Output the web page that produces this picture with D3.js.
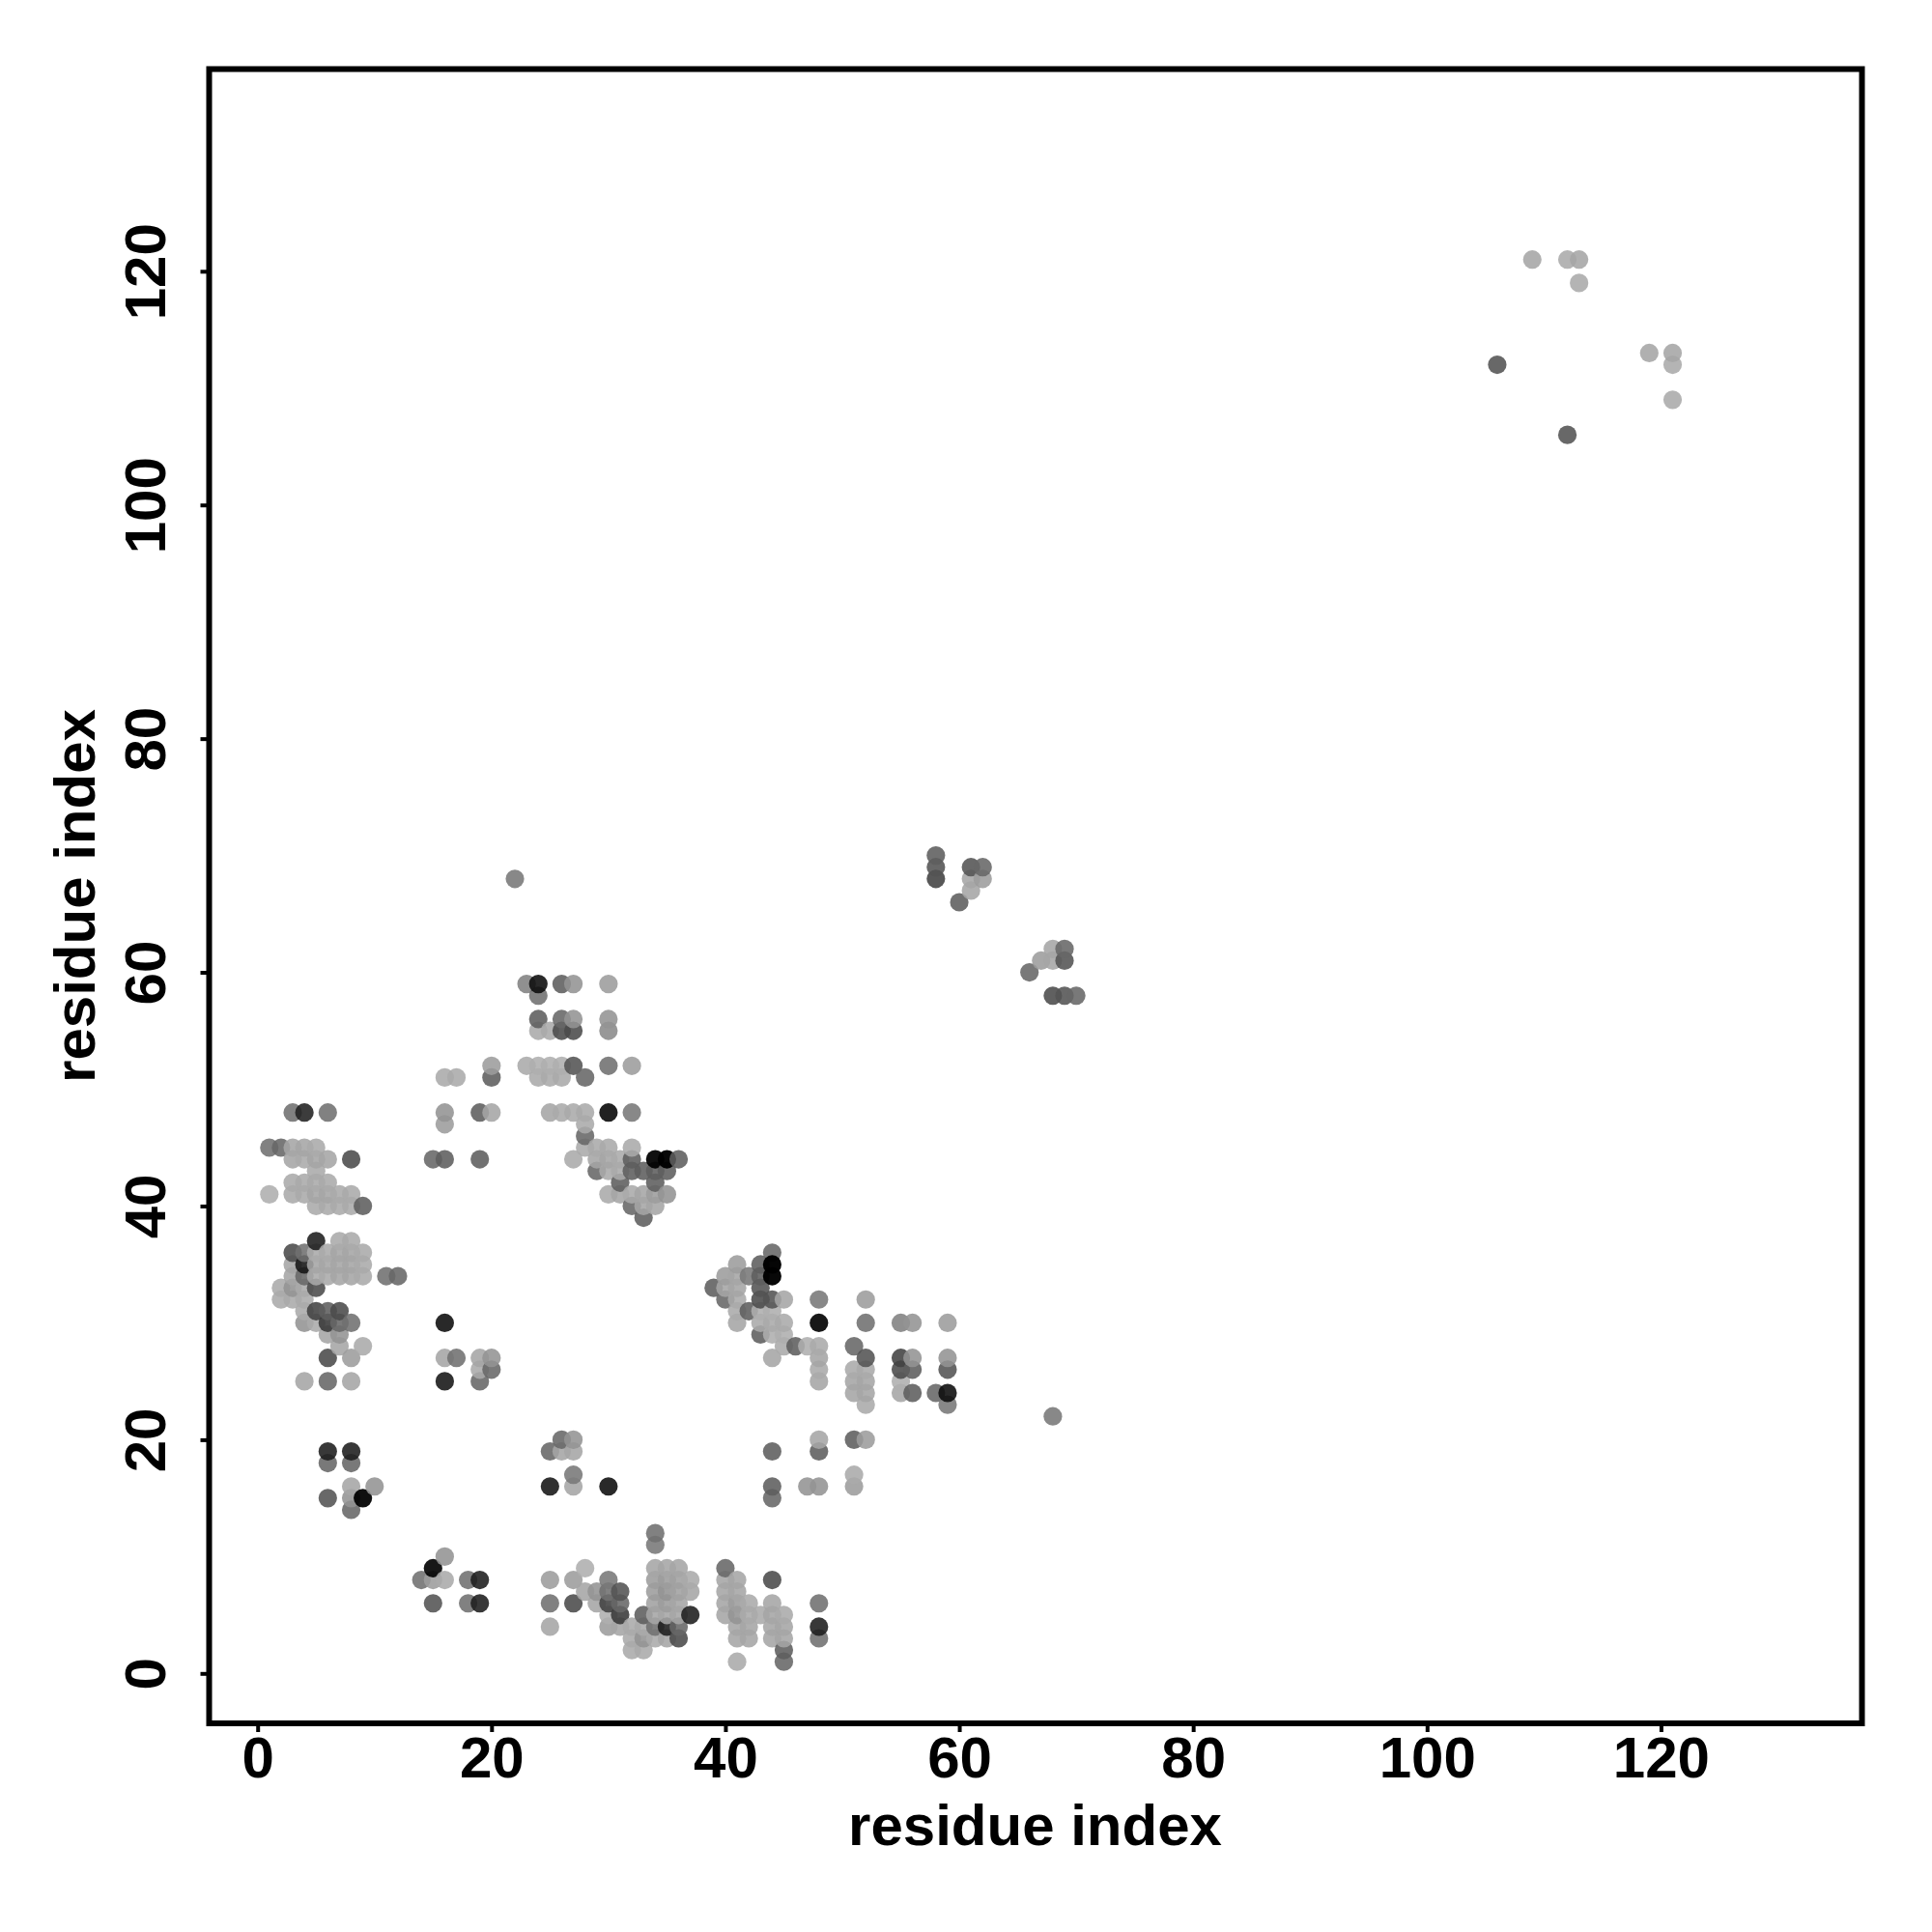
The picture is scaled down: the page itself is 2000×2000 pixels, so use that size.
<!DOCTYPE html>
<html><head><meta charset="utf-8">
<script src="https://cdnjs.cloudflare.com/ajax/libs/d3/7.8.5/d3.min.js"></script>
<style>html,body{margin:0;padding:0;background:#fff}svg{display:block}
text{font-family:"Liberation Sans",Arial,sans-serif;font-weight:700;fill:#000}</style>
</head><body><svg id="c" width="2000" height="2000"></svg>
<script>
// Each line: one row of the contact map (residueY, list of residueX, list of shade)
const rowY = [121,119,113,112,109,106,70,69,68,67,66,62,61,60,59,58,56,55,52,51,48,47,46,45,44,43,42,41,40,39,37,36,35,34,33,32,31,30,29,28,27,26,25,24,23,22,20,19,18,17,16,15,14,12,11,10,9,8,7,6,5,4,3,2,1];
const rowX = [
[109,112,113],[113],[119,121],[106,121],[121],[112],
[58],[58,61,62],[22,58,61,62],[61],[60],
[68,69],[67,68,69],[66],
[23,24,26,27,30],[24,68,69,70],[24,26,27,30],[24,25,26,27,30],
[20,23,24,25,26,27,30,32],[16,17,20,24,25,26,28],
[3,4,6,16,19,20,25,26,27,28,30,32],[16,28],[28],
[1,2,3,4,5,28,29,30,32],
[3,4,5,6,8,15,16,19,27,29,30,31,32,34,35,36],
[5,29,30,31,32,33,34,35],[3,4,5,6,31,34],
[1,3,4,5,6,7,8,30,31,32,33,34,35],[5,6,7,8,9,32,33,34],[33],
[5,7,8],[3,4,5,6,7,8,9,44],[3,4,5,6,7,8,9,41,43,44],
[3,4,5,6,7,8,9,11,12,40,41,42,43,44],[2,3,4,5,39,40,41,43],
[2,3,4,40,41,43,44,45,48,52],[4,5,6,7,41,42,43,44],
[4,5,6,7,8,16,41,43,44,45,48,52,55,56,59],[6,7,43,44,45],
[7,9,45,46,47,48,51],
[6,8,16,17,19,20,44,48,52,55,56,59],[19,20,48,51,52,55,56,59],
[4,6,8,16,19,48,51,52,55],[51,52,55,56,58,59],[52,59],[68],
[26,27,48,51,52],[6,8,25,26,27,44,48],[6,8],[27,51],
[8,10,25,27,30,44,47,48,51],[6,8,9,44],[8],
[34],[34],[16],
[15,28,34,35,36,40],
[14,15,16,18,19,25,27,30,34,35,36,37,40,41,44],
[28,29,30,31,34,35,36,37,40,41],
[15,18,19,25,27,29,30,31,34,35,36,40,41,42,44,48],
[30,31,33,34,35,36,37,40,41,42,43,44,45],
[25,30,31,32,33,34,35,36,41,42,44,45,48],
[32,33,34,35,36,41,42,44,45,48],
[32,33,45],[41,45]
];
const rowShade = [
[0xb0,0xb4,0xb0],[0xb4],[0xb0,0xb0],[0x68,0xb4],[0xb4],[0x68],
[0x70],[0x68,0x68,0x78],[0x88,0x58,0xb0,0xa8],[0xb0],[0x70],
[0xb0,0x78],[0xa8,0xb0,0x68],[0x78],
[0x90,0x28,0x70,0xa0,0xa8],[0x80,0x60,0x68,0x78],[0x70,0x78,0xa0,0xa0],[0xb4,0xb4,0x60,0x60,0x98],
[0xa8,0xb4,0xb8,0xb8,0xb8,0x68,0x80,0xa8],[0xb4,0xb4,0x70,0xb4,0xb4,0xb4,0x78],
[0x80,0x3c,0x80,0xa0,0x70,0xb0,0xb0,0xb4,0xb4,0xb4,0x20,0x88],[0xa8,0xb4],[0x78],
[0x80,0x78,0xb0,0xb0,0xb4,0xb4,0xb4,0xb4,0xb4],
[0xb0,0xb4,0xb0,0xb0,0x60,0x78,0x70,0x70,0xb4,0xb0,0xb0,0xb4,0x70,0x10,0x08,0x70],
[0xb4,0x78,0xb4,0xb4,0x70,0x70,0x70,0x70],[0xb4,0xb4,0xb4,0xb4,0x70,0x70],
[0xb8,0xb4,0xb4,0xb0,0xb0,0xb4,0xb4,0xb4,0xb0,0xb4,0xb0,0xa8,0xa0],[0xb4,0xb4,0xb4,0xb4,0x70,0x78,0xb0,0xb0],[0x70],
[0x38,0xb4,0xb4],[0x60,0x80,0xb4,0xb4,0xb0,0xb0,0xb4,0x78],[0xb0,0x30,0xb0,0xb0,0xb0,0xb0,0xb4,0xa8,0x70,0x05],
[0xb0,0x78,0xb4,0xb4,0xb0,0xb0,0xb4,0x80,0x78,0xa8,0xb0,0x88,0x70,0x08],[0xb4,0xa0,0xb4,0x60,0x70,0xb0,0xb0,0x68],
[0xb4,0xb4,0xb4,0x78,0xb4,0x60,0x68,0xb0,0x88,0xa8],[0xb4,0x58,0x70,0x60,0xb4,0x70,0xb8,0xb8],
[0xa0,0xb4,0x50,0x78,0x80,0x28,0xb0,0xb4,0xb4,0xb4,0x18,0x80,0x90,0xa0,0xa8],[0xb0,0xa0,0x70,0xb8,0xb8],
[0xb0,0xb4,0xb4,0x70,0xb8,0xb4,0x78],
[0x60,0xa8,0xb0,0x80,0xb0,0xa0,0xb0,0xb0,0x68,0x58,0xa0,0xa0],[0xb4,0x78,0xb4,0xb4,0xb4,0x60,0x70,0x68],
[0xb0,0x78,0xb0,0x30,0x78,0xb0,0xb0,0xb0,0xb8],[0xb0,0xb0,0xb0,0x70,0x78,0x28],[0xb4,0x88],[0x88],
[0x78,0xa0,0xb0,0x70,0xa8],[0x38,0x38,0x78,0xb0,0xb0,0x70,0x70],[0x78,0x78],[0x88,0xb4],
[0xb0,0xa0,0x30,0xb0,0x28,0x70,0xa0,0xa0,0xa8],[0x68,0xa0,0x10,0x78],[0x78],
[0x80],[0x88],[0xa0],
[0x18,0xb8,0xb0,0xb0,0xb0,0x78],
[0x80,0xa8,0xb4,0x80,0x38,0xa8,0xa8,0x88,0xa8,0xa8,0xac,0xb4,0xb0,0xb0,0x60],
[0xb0,0xa0,0x80,0x68,0xa8,0xa0,0xac,0xb0,0xb0,0xb0],
[0x68,0x80,0x38,0x80,0x60,0xb0,0x58,0x78,0xac,0xa8,0xb0,0xb0,0xa8,0xb4,0xb0,0x80],
[0xb8,0x50,0x70,0xb0,0xb0,0xb0,0x38,0xb0,0xa0,0xb4,0xb4,0xb0,0xb4],
[0xb0,0xa8,0xb0,0xb4,0xb4,0x80,0x38,0x78,0xb0,0xb0,0xb0,0xb0,0x38],
[0xb4,0xa0,0xb4,0xb0,0x60,0xb0,0xb0,0xb0,0xb0,0x80],
[0xb4,0xb4,0x70],[0xb4,0x78]
];
const axisTicks = [0,20,40,60,80,100,120];
const axisTitle = "residue index";

const points = rowY.flatMap((y,i)=>rowX[i].map((x,j)=>({x,y,g:rowShade[i][j]})));
// Paint order seen in the reference: left to right, upward within a column, blackest dots last in their column.
points.sort((a,b)=>d3.ascending(a.x,b.x)||d3.ascending(a.g<0x10,b.g<0x10)||d3.ascending(a.y,b.y));

const svg = d3.select("#c");
const x = d3.scaleLinear().domain([0,120]).range([266.7,1719.4]);
const y = d3.scaleLinear().domain([0,120]).range([1732.3,280.8]);
const frame = {l:216.5,r:1927.5,t:71.5,b:1784};

// Shades are what one dot looks like on white; recover the ink for a slightly see-through dot.
const A = 0.88;
function fillOf(g){const a=Math.max(A,1-g/255);const c=Math.max(0,Math.round((g-255*(1-a))/a));return {a,c:`rgb(${c},${c},${c})`};}
svg.append("g").selectAll("circle").data(points).join("circle")
  .attr("cx",d=>x(d.x)).attr("cy",d=>y(d.y)).attr("r",9.6)
  .attr("fill",d=>fillOf(d.g).c).attr("fill-opacity",d=>fillOf(d.g).a);

svg.append("rect").attr("x",frame.l).attr("y",frame.t)
  .attr("width",frame.r-frame.l).attr("height",frame.b-frame.t)
  .attr("fill","none").attr("stroke","#000").attr("stroke-width",6);

const gx = svg.append("g").attr("transform",`translate(0,${frame.b+2})`)
  .call(d3.axisBottom(x).tickValues(axisTicks).tickSize(7).tickPadding(0).tickFormat(d3.format("d")));
const gy = svg.append("g").attr("transform",`translate(${frame.l-2},0)`)
  .call(d3.axisLeft(y).tickValues(axisTicks).tickSize(7).tickPadding(0).tickFormat(d3.format("d")));
gx.select(".domain").remove(); gy.select(".domain").remove();
svg.selectAll(".tick line").attr("stroke","#000").attr("stroke-width",4);
gx.selectAll("text").attr("y",0).attr("dy",null).attr("transform",`translate(0,54)`)
  .attr("text-anchor","middle").style("font-size","60px").style("font-family",'"Liberation Sans"').style("font-weight",700);
gy.selectAll("text").attr("x",0).attr("dy",null)
  .attr("transform","translate(-43.5,0) rotate(-90)")
  .attr("text-anchor","middle").style("font-size","60px").style("font-family",'"Liberation Sans"').style("font-weight",700);

svg.append("text").attr("x",1071.5).attr("y",1910).attr("text-anchor","middle").style("font-size","60px").text(axisTitle);
svg.append("text").attr("transform","translate(98,927.5) rotate(-90)").attr("text-anchor","middle").style("font-size","60px").text(axisTitle);
</script></body></html>
